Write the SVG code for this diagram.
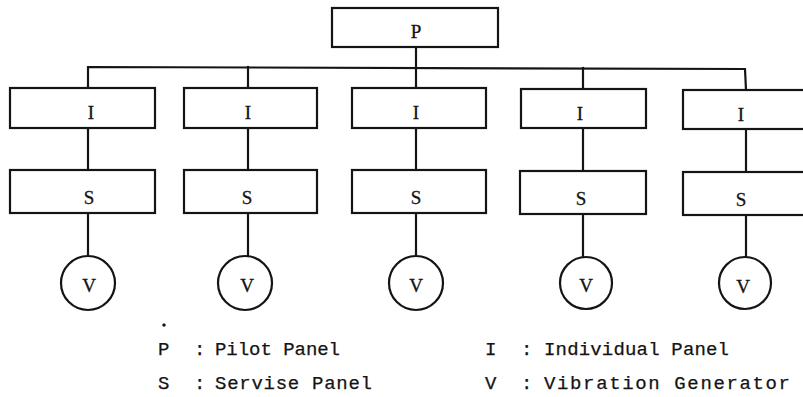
<svg xmlns="http://www.w3.org/2000/svg" width="803" height="397" viewBox="0 0 803 397">
  <style>
    .box { fill: #fff; stroke: #141414; stroke-width: 2.2; }
    .gen { fill: #fff; stroke: #141414; stroke-width: 2.2; }
    .wire { fill: none; stroke: #141414; stroke-width: 2.2; stroke-linecap: square; }
    .lbl { font-family: "Liberation Serif", "DejaVu Serif", serif; font-size: 19px; fill: #141414; stroke: #141414; stroke-width: 0.3; text-anchor: middle; dominant-baseline: central; }
    .leg { font-family: "Liberation Mono", "DejaVu Sans Mono", monospace; font-size: 19px; fill: #141414; stroke: #141414; stroke-width: 0.25; }
  </style>
  <rect width="803" height="397" fill="#fff"/>

  <!-- connectors: pilot bus, panel drops, generator leads -->
  <g id="connectors" class="wire">
    <line x1="416" y1="47" x2="416" y2="88"/>
    <polyline points="88,88 88,67 745,69 746,90"/>
    <line x1="248" y1="67" x2="248" y2="88"/>
    <line x1="583" y1="68" x2="583" y2="88"/>
    <line x1="88" y1="128" x2="88" y2="170"/>
    <line x1="248" y1="128" x2="248" y2="170"/>
    <line x1="416" y1="128" x2="416" y2="170"/>
    <line x1="583" y1="128" x2="583" y2="170"/>
    <line x1="746" y1="129" x2="746" y2="172"/>
    <line x1="88" y1="213" x2="88" y2="256"/>
    <line x1="248" y1="213" x2="248" y2="256"/>
    <line x1="416" y1="213" x2="416" y2="256"/>
    <line x1="583" y1="213" x2="583" y2="256"/>
    <line x1="746" y1="215" x2="746" y2="256"/>
  </g>

  <!-- pilot panel -->
  <g id="P">
    <rect class="box" x="332" y="8" width="166" height="39"/>
    <text class="lbl" x="416" y="31">P</text>
  </g>

  <!-- individual panels -->
  <g id="I1"><rect class="box" x="10" y="88" width="145" height="40"/><text class="lbl" x="91" y="112">I</text></g>
  <g id="I2"><rect class="box" x="184" y="88" width="133" height="40"/><text class="lbl" x="248" y="112">I</text></g>
  <g id="I3"><rect class="box" x="352" y="88" width="134" height="40"/><text class="lbl" x="416" y="112">I</text></g>
  <g id="I4"><rect class="box" x="521" y="89" width="125" height="39"/><text class="lbl" x="580" y="113">I</text></g>
  <g id="I5"><rect class="box" x="683" y="90" width="130" height="39"/><text class="lbl" x="741" y="114">I</text></g>

  <!-- service panels -->
  <g id="S1"><rect class="box" x="10" y="170" width="145" height="43"/><text class="lbl" x="89" y="197">S</text></g>
  <g id="S2"><rect class="box" x="184" y="170" width="133" height="43"/><text class="lbl" x="247" y="197">S</text></g>
  <g id="S3"><rect class="box" x="352" y="170" width="134" height="43"/><text class="lbl" x="416" y="197">S</text></g>
  <g id="S4"><rect class="box" x="520" y="171" width="126" height="43"/><text class="lbl" x="581" y="198">S</text></g>
  <g id="S5"><rect class="box" x="683" y="172" width="130" height="43"/><text class="lbl" x="741" y="199">S</text></g>

  <!-- vibration generators -->
  <g id="V1"><circle class="gen" cx="88" cy="283" r="27"/><text class="lbl" x="89" y="285">V</text></g>
  <g id="V2"><circle class="gen" cx="245" cy="283" r="27"/><text class="lbl" x="247" y="285">V</text></g>
  <g id="V3"><circle class="gen" cx="416" cy="283" r="27"/><text class="lbl" x="416" y="285">V</text></g>
  <g id="V4"><circle class="gen" cx="586" cy="283" r="26"/><text class="lbl" x="586" y="285">V</text></g>
  <g id="V5"><circle class="gen" cx="745" cy="283" r="26"/><text class="lbl" x="743" y="286">V</text></g>

  <!-- legend -->
  <g id="legend" class="leg">
    <circle cx="164" cy="325" r="1.6" fill="#141414"/>
    <text x="158" y="355">P</text>
    <text x="194" y="355">:</text>
    <text x="215" y="355" textLength="125" lengthAdjust="spacing">Pilot Panel</text>
    <text x="158" y="389">S</text>
    <text x="194" y="389">:</text>
    <text x="215" y="389" textLength="157" lengthAdjust="spacing">Servise Panel</text>
    <text x="485" y="355">I</text>
    <text x="521" y="355">:</text>
    <text x="544" y="355" textLength="185" lengthAdjust="spacing">Individual Panel</text>
    <text x="485" y="389">V</text>
    <text x="521" y="389">:</text>
    <text x="544" y="389" textLength="246" lengthAdjust="spacing">Vibration Generator</text>
  </g>
</svg>
